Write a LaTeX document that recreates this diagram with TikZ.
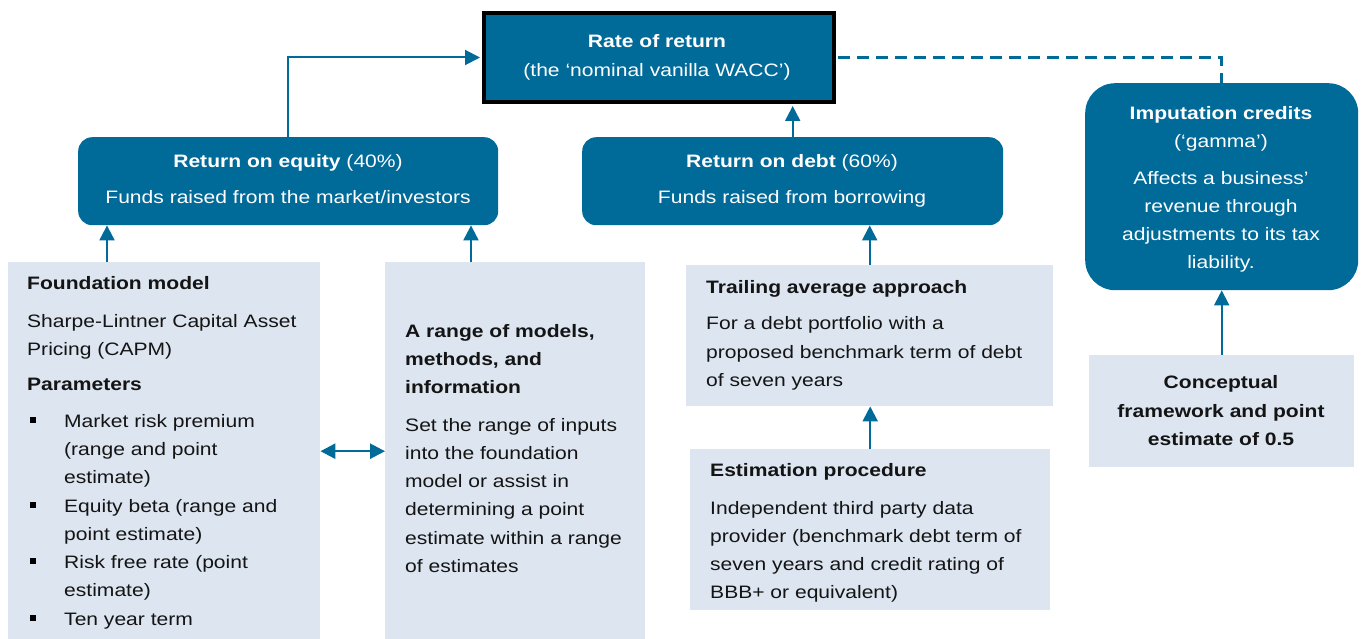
\documentclass[tikz,border=0pt]{standalone}
\usepackage{fontspec}
\setmainfont{Liberation Sans}[FakeStretch=1.17]
\usetikzlibrary{arrows.meta}
\definecolor{aerblue}{RGB}{0,106,153}
\definecolor{aerlight}{RGB}{220,229,240}
\definecolor{ink}{RGB}{20,20,20}
\tikzset{
  darkbox/.style={fill=aerblue, draw=none, rounded corners=14pt, inner sep=0pt, anchor=north west},
  lightbox/.style={fill=aerlight, draw=none, inner sep=0pt, anchor=north west},
  txt/.style={inner sep=0pt, font=\fontsize{18}{28}\selectfont},
  wtxt/.style={txt, text=white},
  ktxt/.style={txt, text=ink},
  bul/.style={fill=black, draw=none, rectangle, minimum size=6pt, inner sep=0pt},
  arr/.style={draw=aerblue, line width=2pt, -{Triangle[length=15pt,width=15pt]}},
  dbl/.style={draw=aerblue, line width=2.5pt, {Triangle[length=15pt,width=15pt]}-{Triangle[length=15pt,width=15pt]}},
  dsh/.style={draw=aerblue, line width=2.5pt, dash pattern=on 12pt off 7pt},
}
\newcommand\wL[4]{\node[wtxt,anchor=base west] (#1) at (#2,#3) {#4};}
\newcommand\wC[4]{\node[wtxt,anchor=base] (#1) at (#2,#3) {#4};}
\newcommand\kL[4]{\node[ktxt,anchor=base west] (#1) at (#2,#3) {#4};}
\newcommand\kC[4]{\node[ktxt,anchor=base] (#1) at (#2,#3) {#4};}
\begin{document}
\begin{tikzpicture}[x=1pt,y=-1pt]
\useasboundingbox (0,0) rectangle (1363,639);
% boxes
\node[fill=aerblue, draw=black, line width=4pt, inner sep=0pt, anchor=north west, minimum width=350pt, minimum height=89pt] (rate) at (482,11) {};
\node[darkbox, minimum width=420pt, minimum height=88pt] (eq) at (78,137) {};
\node[darkbox, minimum width=421pt, minimum height=88pt] (debt) at (582,137) {};
\node[darkbox, rounded corners=30pt, minimum width=273pt, minimum height=207pt] (imp) at (1085,83) {};
\node[lightbox, minimum width=312pt, minimum height=378pt] (fm) at (8,262) {};
\node[lightbox, minimum width=260pt, minimum height=378pt] (rng) at (385,262) {};
\node[lightbox, minimum width=367pt, minimum height=141pt] (tr) at (686,265) {};
\node[lightbox, minimum width=360pt, minimum height=161pt] (est) at (690,449) {};
\node[lightbox, minimum width=265pt, minimum height=112pt] (con) at (1089,355) {};
% texts: rate
\wC{r1}{657}{48}{\textbf{Rate of return}}
\wC{r2}{657}{77}{(the ‘nominal vanilla WACC’)}
% equity
\wC{e1}{288}{168}{\textbf{Return on equity} (40\%)}
\wC{e2}{288}{204}{Funds raised from the market/investors}
% debt
\wC{d1}{792}{168}{\textbf{Return on debt} (60\%)}
\wC{d2}{792}{204}{Funds raised from borrowing}
% imputation
\wC{i1}{1221}{120}{\textbf{Imputation credits}}
\wC{i2}{1221}{148}{(‘gamma’)}
\wC{i3}{1221}{185}{Affects a business’}
\wC{i4}{1221}{213}{revenue through}
\wC{i5}{1221}{241}{adjustments to its tax}
\wC{i6}{1221}{269}{liability.}
% foundation
\kL{f1}{27}{290}{\textbf{Foundation model}}
\kL{f2}{27}{327}{Sharpe-Lintner Capital Asset}
\kL{f3}{27}{355}{Pricing (CAPM)}
\kL{f4}{27}{390}{\textbf{Parameters}}
\kL{f5}{64}{427}{Market risk premium}
\kL{f6}{64}{455}{(range and point}
\kL{f7}{64}{483}{estimate)}
\kL{f8}{64}{512}{Equity beta (range and}
\kL{f9}{64}{540}{point estimate)}
\kL{f10}{64}{568}{Risk free rate (point}
\kL{f11}{64}{596}{estimate)}
\kL{f12}{64}{625}{Ten year term}
\node[bul] (b1) at (33,420) {};
\node[bul] (b2) at (33,505) {};
\node[bul] (b3) at (33,561) {};
\node[bul] (b4) at (33,618) {};
% range
\kL{g1}{405}{337}{\textbf{A range of models,}}
\kL{g2}{405}{365}{\textbf{methods, and}}
\kL{g3}{405}{393}{\textbf{information}}
\kL{g4}{405}{431}{Set the range of inputs}
\kL{g5}{405}{459}{into the foundation}
\kL{g6}{405}{487}{model or assist in}
\kL{g7}{405}{515}{determining a point}
\kL{g8}{405}{544}{estimate within a range}
\kL{g9}{405}{572}{of estimates}
% trailing
\kL{t1}{706}{293}{\textbf{Trailing average approach}}
\kL{t2}{706}{329}{For a debt portfolio with a}
\kL{t3}{706}{358}{proposed benchmark term of debt}
\kL{t4}{706}{386}{of seven years}
% estimation
\kL{s1}{710}{476}{\textbf{Estimation procedure}}
\kL{s2}{710}{514}{Independent third party data}
\kL{s3}{710}{542}{provider (benchmark debt term of}
\kL{s4}{710}{570}{seven years and credit rating of}
\kL{s5}{710}{598}{BBB+ or equivalent)}
% conceptual
\kC{c1}{1221}{388}{\textbf{Conceptual}}
\kC{c2}{1221}{417}{\textbf{framework and point}}
\kC{c3}{1221}{445}{\textbf{estimate of 0.5}}
% connectors
\draw[arr] (eq.north) |- ([xshift=-2pt]rate.west);
\draw[arr] (debt.north) -- ([yshift=-2pt]debt.north |- rate.south);
\draw[dsh] ([xshift=2pt]rate.east) -| (imp.north);
\path ([xshift=99pt]fm.north west) coordinate (fa);
\draw[arr] (fa) -- (fa |- eq.south);
\path ([xshift=86pt]rng.north west) coordinate (ra);
\draw[arr] (ra) -- (ra |- eq.south);
\draw[arr] (tr.north) -- (tr.north |- debt.south);
\draw[arr] (est.north) -- (est.north |- tr.south);
\draw[arr] (con.north) -- (con.north |- imp.south);
\draw[dbl] (fm.east) -- (rng.west);
\end{tikzpicture}
\end{document}
